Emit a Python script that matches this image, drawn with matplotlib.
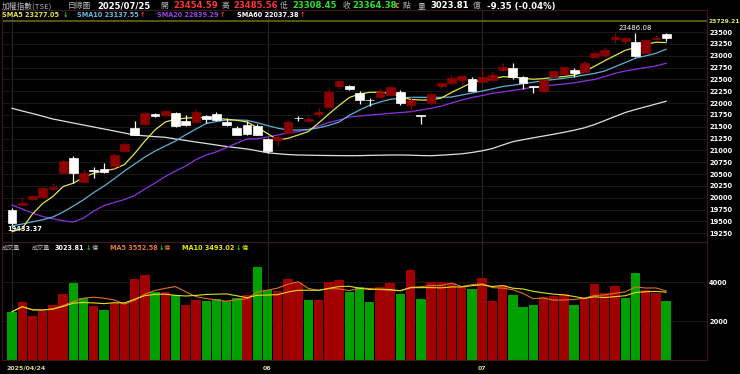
import numpy as np
import pandas as pd
import matplotlib
matplotlib.use('Agg')
import matplotlib.pyplot as plt
import matplotlib.transforms as mtransforms

plt.rcParams['font.family'] = ['DejaVu Sans', 'Noto Sans CJK TC']

# trading days 2025/04/24 - 2025/07/25 (TWSE holidays removed)
dates = pd.bdate_range('2025-04-24', '2025-07-25')
dates = dates.drop(pd.to_datetime(['2025-05-01', '2025-05-30']))

open_ = [19742, 19847, 19967, 20010, 20185, 20529, 20833, 20339, 20590, 20600,
         20671, 20987, 21467, 21551, 21769, 21747, 21783, 21627, 21593, 21726,
         21769, 21606, 21479, 21530, 21515, 21247, 21220, 21361, 21688, 21627,
         21769, 21923, 22366, 22360, 22218, 22075, 22134, 22170, 22227, 21959,
         21754, 21994, 22360, 22417, 22487, 22501, 22451, 22487, 22698, 22746,
         22543, 22360, 22261, 22556, 22613, 22698, 22662, 22978, 23014, 23346,
         23316, 23295, 23063, 23360, 23454.59]
high = [19784, 20010, 20065, 20234, 20305, 20797, 20882, 20614, 20656, 20740,
        20939, 21184, 21621, 21811, 21796, 21853, 21817, 21747, 21868, 21747,
        21817, 21678, 21515, 21621, 21557, 21272, 21304, 21642, 21726, 21726,
        21889, 22290, 22487, 22391, 22254, 22100, 22311, 22360, 22275, 22128,
        21758, 22212, 22451, 22592, 22592, 22550, 22755, 22655, 22839, 22839,
        22571, 22364, 22508, 22708, 22782, 22734, 22894, 23105, 23177, 23473,
        23416, 23486.08, 23342, 23440, 23485.56]
low = [19433.37, 19840, 19960, 20000, 20164, 20523, 20305, 20333, 20411, 20533,
       20622, 20977, 21315, 21536, 21712, 21699, 21500, 21505, 21579, 21572,
       21631, 21526, 21315, 21336, 21330, 20951, 21093, 21346, 21627, 21621,
       21712, 21916, 22290, 22275, 21980, 21937, 22128, 22149, 21959, 21796,
       21551, 21980, 22311, 22381, 22381, 22254, 22444, 22465, 22677, 22501,
       22290, 22206, 22239, 22529, 22603, 22543, 22655, 22945, 22945, 23274,
       23247, 22972, 23057, 23340, 23308.45]
close = [19473, 19896, 20037, 20212, 20221, 20776, 20529, 20516, 20560, 20548,
         20897, 21135, 21325, 21783, 21726, 21838, 21515, 21530, 21804, 21657,
         21642, 21536, 21325, 21346, 21335, 20994, 21277, 21606, 21674, 21669,
         21817, 22239, 22465, 22307, 22064, 22058, 22239, 22345, 22007, 22064,
         21737, 22191, 22429, 22522, 22571, 22261, 22556, 22592, 22767, 22556,
         22429, 22332, 22487, 22683, 22755, 22628, 22839, 23063, 23120, 23401,
         23367, 22993, 23331, 23373.73, 23364.38]
volume = [2481, 2997, 2258, 2532, 2827, 3395, 3979, 3173, 2775, 2568,
          2946, 2915, 4155, 4362, 3514, 3499, 3359, 2827, 3085, 3049,
          3121, 3034, 3189, 3344, 4806, 3602, 3566, 4186, 3979, 3085,
          3085, 4031, 4119, 3514, 3742, 2997, 3742, 3948, 3395, 4636,
          3137, 4015, 4015, 3979, 3742, 3654, 4207, 3049, 3845, 3328,
          2708, 2827, 3225, 3292, 3380, 2827.3, 3187, 3912, 3432, 3809,
          3173, 4496, 3610.1, 3460, 3023.81]

# moving averages as drawn on the chart
sma5 = [19283, 19351, 19657, 19879, 20027, 20238, 20307, 20434, 20519, 20569,
        20607, 20702, 20934, 21198, 21435, 21600, 21659, 21680, 21699, 21689,
        21676, 21657, 21636, 21600, 21484, 21357, 21220, 21256, 21325, 21399,
        21579, 21769, 21948, 22117, 22191, 22227, 22227, 22206, 22132, 22077,
        22064, 22064, 22106, 22223, 22328, 22434, 22487, 22508, 22556, 22550,
        22522, 22503, 22516, 22543, 22560, 22592, 22666, 22778, 22894, 23004,
        23114, 23173, 23240, 23285, 23277.05]
sma10 = [19404, 19446, 19492, 19535, 19594, 19699, 19826, 19959, 20111, 20248,
         20402, 20565, 20713, 20861, 20987, 21093, 21198, 21331, 21452, 21568,
         21610, 21642, 21642, 21636, 21583, 21524, 21469, 21431, 21431, 21441,
         21477, 21530, 21600, 21741, 21853, 21954, 22022, 22079, 22102, 22121,
         22121, 22121, 22121, 22127, 22170, 22212, 22254, 22301, 22349, 22377,
         22408, 22440, 22470, 22497, 22524, 22554, 22592, 22626, 22677, 22767,
         22856, 22947, 22997, 23050, 23137.55]
sma20 = [19847, 19763, 19678, 19604, 19556, 19513, 19488, 19573, 19720, 19837,
         19900, 19963, 20048, 20185, 20312, 20449, 20565, 20671, 20808, 20903,
         20970, 21061, 21156, 21241, 21245, 21283, 21325, 21367, 21399, 21441,
         21515, 21589, 21642, 21705, 21726, 21747, 21764, 21783, 21800, 21817,
         21853, 21889, 21937, 22001, 22064, 22117, 22159, 22206, 22233, 22269,
         22296, 22339, 22360, 22381, 22402, 22427, 22465, 22497, 22560, 22628,
         22677, 22712, 22750, 22782, 22839.29]
sma60 = [21889, 21832, 21779, 21722, 21663, 21621, 21578, 21536, 21494, 21452,
         21410, 21367, 21325, 21308, 21291, 21277, 21241, 21209, 21177, 21146,
         21114, 21082, 21055, 21030, 20992, 20951, 20930, 20913, 20903, 20899,
         20895, 20892, 20890, 20888, 20890, 20895, 20899, 20903, 20903, 20899,
         20892, 20888, 20899, 20913, 20928, 20956, 20992, 21040, 21114, 21184,
         21226, 21266, 21304, 21342, 21382, 21427, 21477, 21547, 21631, 21716,
         21800, 21864, 21921, 21980, 22037.38]

price_ticks = np.arange(19250, 23501, 250)
vol_ticks = [2000, 4000]
top_value = 23729.21

W, H = 740, 374
RED, GREEN = '#a00000', '#00a000'
UP_TXT, DOWN_TXT = '#ff3030', '#20d020'
FRAME = '#3c171b'
GRID = '#1c1c1c'

o = np.array(open_, float)
h = np.array(high, float)
l = np.array(low, float)
c = np.array(close, float)
v = np.array(volume, float)
x = np.arange(len(c))
vma5 = pd.Series(v).rolling(5, min_periods=1).mean()
vma10 = pd.Series(v).rolling(10, min_periods=1).mean()

fig = plt.figure(figsize=(W / 100, H / 100), dpi=100, facecolor='black')


def fx(px):
    return px / W


def fy(py):
    return 1 - py / H


ax = fig.add_axes([fx(2), fy(242), fx(707) - fx(2), fy(10) - fy(242)], facecolor='black')
axv = fig.add_axes([fx(2), fy(360), fx(707) - fx(2), fy(242) - fy(360)], facecolor='black')

for a in (ax, axv):
    a.set_xlim(-0.98, 68.0)
    for s in a.spines.values():
        s.set_color(FRAME)
        s.set_linewidth(0.8)
    a.tick_params(axis='x', bottom=False, labelbottom=False)
    a.yaxis.tick_right()
    a.tick_params(axis='y', length=0, pad=1.5, labelsize=4.8, labelcolor='white')

# first day plus month starts (a month start too close to the first label is skipped)
month_idx = [0] + [i for i in range(10, len(dates)) if dates[i].month != dates[i - 1].month]
for a in (ax, axv):
    for i in month_idx:
        a.axvline(i, color='#2a2a2a', lw=0.7, zorder=0)

# ---- price panel
ax.set_ylim(19066, 23965)
ax.set_yticks(price_ticks)
ax.grid(axis='y', color=GRID, lw=0.6)
ax.axhline(top_value, color='#6e6e1e', lw=1.1)
for t in ax.get_yticklabels():
    t.set_fontweight('bold')
ax.text(1.0015, top_value, f'{top_value:.2f}', color='#e6e65a', fontsize=4.3, fontweight='bold',
        va='center', ha='left', transform=mtransforms.blended_transform_factory(ax.transAxes, ax.transData),
        clip_on=False)

ax.plot(x, sma60, color='#e0e0e0', lw=0.9, zorder=2)
ax.plot(x, sma20, color='#8e2fe0', lw=0.9, zorder=2)
ax.plot(x, sma10, color='#5cb2d6', lw=0.9, zorder=2)
ax.plot(x, sma5, color='#e4e44c', lw=0.9, zorder=2)

down = c < o
col = np.where(down, '#ffffff', '#8c0000')
ax.vlines(x, l, h, colors=col, lw=0.9, zorder=3)
ax.bar(x, np.maximum(np.abs(c - o), 8), bottom=np.minimum(o, c), width=0.86,
       color=col, edgecolor=col, lw=0.5, zorder=4)

imax = int(np.argmax(h))
ax.annotate(f'{h[imax]:.2f}', (imax, h[imax]), xytext=(0, 1.5), textcoords='offset points',
            ha='center', va='bottom', color='white', fontsize=5)
imin = int(np.argmin(l))
ax.annotate(f'{l[imin]:.2f}', (imin - 0.5, l[imin]), xytext=(0, -1), textcoords='offset points',
            ha='left', va='top', color='white', fontsize=4.8, fontweight='bold')

# ---- volume panel
prev = np.r_[o[0], c[:-1]]
vcol = np.where(c >= prev, RED, GREEN)
axv.set_ylim(-15, 6083)
axv.set_yticks(vol_ticks)
axv.grid(axis='y', color=GRID, lw=0.6)
for t in axv.get_yticklabels():
    t.set_fontweight('bold')
axv.bar(x, v, width=0.92, color=vcol, zorder=2)
axv.plot(x, vma5, color='#d8742a', lw=0.8, zorder=3)
axv.plot(x, vma10, color='#e0e020', lw=0.8, zorder=3)

date_tf = mtransforms.blended_transform_factory(axv.transData, axv.transAxes)
for k, i in enumerate(month_idx):
    s = dates[i].strftime('%Y/%m/%d') if k == 0 else dates[i].strftime('%m')
    axv.text(i - 0.5 if k == 0 else i, -0.068, s, transform=date_tf, color='#d8d890',
             fontsize=4.5, fontweight='bold', ha='left' if k == 0 else 'center', va='center',
             clip_on=False)

# ---- header texts
CJK = ['Noto Sans CJK TC', 'DejaVu Sans']
GRAY = '#b4b4b4'


def txt(px, py, s, color, size=4.7, bold=True, cjk=False):
    fig.text(fx(px), fy(py), s, color=color, fontsize=size,
             fontweight='bold' if bold else 'normal', family=CJK if cjk else None,
             va='center', ha='left')


def arrow(px, py, cur, before):
    up = cur >= before
    txt(px, py, '↑' if up else '↓', UP_TXT if up else DOWN_TXT)


r1 = 6
txt(2, r1, '加權指數(TSE)', GRAY, 5.6, False, True)
txt(68, r1, '日線圖', GRAY, 5.6, False, True)
txt(97, r1, dates[-1].strftime('%Y/%m/%d'), 'white', 6.1)
txt(160, r1, '開', GRAY, 5.6, False, True)
txt(173, r1, f'{o[-1]:.2f}', '#ff3434', 6.1)
txt(222, r1, '高', GRAY, 5.6, False, True)
txt(233, r1, f'{h[-1]:.2f}', '#ff3434', 6.1)
txt(280, r1, '低', GRAY, 5.6, False, True)
txt(292, r1, f'{l[-1]:.2f}', '#2ee02e', 6.1)
txt(343, r1, '收', GRAY, 5.6, False, True)
txt(352, r1, f'{c[-1]:.2f}', '#2ee02e', 6.1)
txt(395, r1, 'c', '#e08040', 5.5)
txt(403, r1, '點', GRAY, 5.6, False, True)
txt(418, r1, '量', GRAY, 5.6, False, True)
txt(430, r1, f'{v[-1]:.2f}', 'white', 6.1)
txt(473, r1, '億', GRAY, 5.6, False, True)
chg = c[-1] - c[-2]
txt(487, r1, f'{chg:.2f} ({chg / c[-2] * 100:.2f}%)', 'white', 6.1)

r2 = 15
for px, name, vals, color in [(2, 'SMA5', sma5, '#e4e44c'), (77, 'SMA10', sma10, '#6ab8e0'),
                              (157, 'SMA20', sma20, '#9a40e6'), (237, 'SMA60', sma60, 'white')]:
    txt(px, r2, f'{name} {vals[-1]:.2f}', color)
    arrow(px + 61 + (2 if name != 'SMA5' else 0), r2, vals[-1], vals[-2])

r3 = 248
txt(2, r3, '成交量', GRAY, 4.4, False, True)
txt(32, r3, '成交量', GRAY, 4.4, False, True)
txt(55, r3, f'{v[-1]:.2f}', 'white')
arrow(86, r3, v[-1], v[-2])
txt(92, r3, '億', GRAY, 4.4, False, True)
txt(110, r3, f'MA5 {vma5.iloc[-1]:.2f}', '#e8782a')
arrow(159, r3, vma5.iloc[-1], vma5.iloc[-2])
txt(164, r3, '億', '#e8782a', 4.4, False, True)
txt(182, r3, f'MA10 {vma10.iloc[-1]:.2f}', '#e8e800')
arrow(236, r3, vma10.iloc[-1], vma10.iloc[-2])
txt(242, r3, '億', '#e8e800', 4.4, False, True)

fig.savefig('out.png', dpi=100, facecolor='black')
